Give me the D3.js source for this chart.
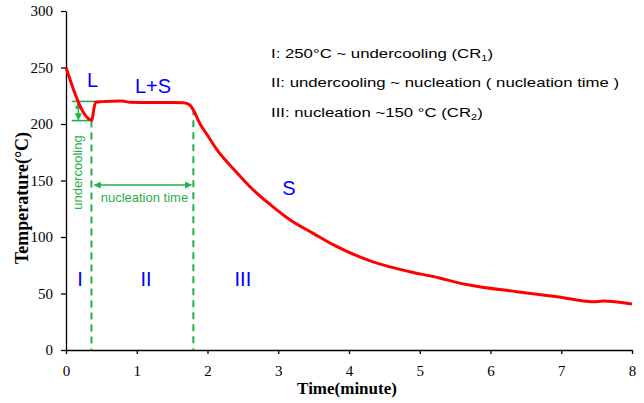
<!doctype html>
<html lang="en">
<head>
    <meta charset="UTF-8">
    <script src="https://cdnjs.cloudflare.com/ajax/libs/d3/7.8.5/d3.min.js"></script>
    <title>Cooling curve</title>
    <style>
        body { margin: 0; background: #fff; }
    </style>
</head>
<body>

<div id="viz_area"></div>

<script>
    // cooling curve
    const timeMin = [0, 0.367, 0.39, 0.42, 0.5, 0.79, 0.905, 1.2, 1.5, 1.66, 1.75, 1.80, 1.89, 2.0, 2.13, 2.4, 2.6, 2.9, 3.17, 3.5, 3.78, 4.34, 4.86, 5.19, 5.66, 6.37, 6.94, 7.45, 7.59, 8.0];
    const tempC = [250, 203.5, 212, 219.3, 219.8, 220.4, 219.2, 219, 219, 218.9, 216.8, 212.4, 200.6, 190, 177.5, 158, 144.5, 128, 115, 103, 93, 78, 69.3, 65, 58, 51.6, 47.2, 42.7, 43.3, 40.7];

    const xTicks = [0, 1, 2, 3, 4, 5, 6, 7, 8];
    const yTicks = [0, 50, 100, 150, 200, 250, 300];

    // annotation values
    const undercoolTemps = [220, 203];        // top / bottom of undercooling
    const nucleationTimes = [0.36, 1.8];      // start / end of nucleation time
    const nucleationArrowTemp = 146;

    const phaseLabels = ['L', 'L+S', 'S'];
    const phaseAt = [[0.375, 232.5], [1.23, 227], [3.15, 137]];
    const stageLabels = ['I', 'II', 'III'];
    const stageAt = [0.2, 1.13, 2.5];
    const stageTemp = 56.5;

    const legendLines = [
        ['I: 250°C ~ undercooling (CR', '1', ')'],
        ['II: undercooling ~ nucleation ( nucleation time )', '', ''],
        ['III: nucleation ~150 °C (CR', '2', ')']
    ];

    const margin = {top: 11, right: 12, bottom: 53, left: 66},
        width = 644 - margin.left - margin.right,
        height = 403 - margin.top - margin.bottom;

    const serif = '"Liberation Serif", "Times New Roman", serif';
    const sans = '"Liberation Sans", Arial, sans-serif';

    const svg = d3.select('#viz_area')
        .append('svg')
        .attr('width', 644)
        .attr('height', 403);

    const g = svg.append('g')
        .attr('transform', `translate(${margin.left},${margin.top})`);

    const x = d3.scaleLinear().domain([0, 8]).range([0, width]);
    const y = d3.scaleLinear().domain([0, 300]).range([height, 0]);

    const green = '#1fb14a';

    // arrow heads
    const defs = svg.append('defs');
    defs.append('marker')
        .attr('id', 'arr')
        .attr('viewBox', '0 0 10 10')
        .attr('refX', 9).attr('refY', 5)
        .attr('markerWidth', 7).attr('markerHeight', 7)
        .attr('markerUnits', 'userSpaceOnUse')
        .attr('orient', 'auto-start-reverse')
        .append('path')
        .attr('d', 'M0,0 L10,5 L0,10 Z')
        .attr('fill', green);

    // axes
    const xAxis = g.append('g')
        .attr('transform', `translate(0,${height})`)
        .call(d3.axisBottom(x).tickValues(xTicks).tickSize(4).tickSizeOuter(0));
    const yAxis = g.append('g')
        .call(d3.axisLeft(y).tickValues(yTicks).tickSize(5).tickSizeOuter(0));

    [xAxis, yAxis].forEach(a => {
        a.attr('font-family', null).attr('font-size', null);
        a.select('.domain').attr('stroke', '#000').attr('stroke-width', 1.3);
        a.selectAll('.tick line').attr('stroke', '#000').attr('stroke-width', 1.3);
        a.selectAll('.tick text')
            .style('font-family', serif)
            .style('font-size', '15px')
            .attr('fill', '#000');
    });
    xAxis.selectAll('.tick text').attr('y', 4).attr('dy', '1.45em');
    yAxis.selectAll('.tick text').attr('x', -13);

    svg.append('text')
        .attr('x', margin.left + x(4) - 2)
        .attr('y', 394)
        .attr('text-anchor', 'middle')
        .style('font-family', serif)
        .style('font-weight', 'bold')
        .style('font-size', '17px')
        .text('Time(minute)');

    svg.append('text')
        .attr('transform', 'translate(28,198) rotate(-90)')
        .attr('text-anchor', 'middle')
        .style('font-family', serif)
        .style('font-weight', 'bold')
        .style('font-size', '18px')
        .text('Temperature(°C)');

    // dashed markers of undercooling and nucleation
    g.selectAll('.vdash')
        .data([[nucleationTimes[0], undercoolTemps[1]], [nucleationTimes[1], 214]])
        .join('line')
        .attr('class', 'vdash')
        .attr('x1', d => x(d[0])).attr('x2', d => x(d[0]))
        .attr('y1', d => y(d[1])).attr('y2', y(0))
        .attr('stroke', green)
        .attr('stroke-width', 2)
        .attr('stroke-dasharray', '7,5');

    // undercooling brackets
    g.selectAll('.hbar')
        .data([[undercoolTemps[0], 0.48], [undercoolTemps[1], nucleationTimes[0] + 0.02]])
        .join('line')
        .attr('class', 'hbar')
        .attr('x1', x(0.08)).attr('x2', d => x(d[1]))
        .attr('y1', d => y(d[0])).attr('y2', d => y(d[0]))
        .attr('stroke', green)
        .attr('stroke-width', 1.6);

    g.append('line')
        .attr('x1', x(0.175)).attr('x2', x(0.175))
        .attr('y1', y(undercoolTemps[0]) + 1).attr('y2', y(undercoolTemps[1]) - 1)
        .attr('stroke', green)
        .attr('stroke-width', 1.6)
        .attr('marker-start', 'url(#arr)')
        .attr('marker-end', 'url(#arr)');

    g.append('text')
        .attr('transform', `translate(${x(0.225)},${y(157)}) rotate(-90)`)
        .attr('text-anchor', 'middle')
        .style('font-family', sans)
        .style('font-size', '13px')
        .attr('fill', green)
        .text('undercooling');

    g.append('line')
        .attr('x1', x(nucleationTimes[0]) + 3).attr('x2', x(nucleationTimes[1]) - 2)
        .attr('y1', y(nucleationArrowTemp)).attr('y2', y(nucleationArrowTemp))
        .attr('stroke', green)
        .attr('stroke-width', 1.6)
        .attr('marker-start', 'url(#arr)')
        .attr('marker-end', 'url(#arr)');

    g.append('text')
        .attr('x', x((nucleationTimes[0] + nucleationTimes[1]) / 2) + 2)
        .attr('y', y(nucleationArrowTemp) + 17)
        .attr('text-anchor', 'middle')
        .style('font-family', sans)
        .style('font-size', '13px')
        .attr('fill', green)
        .text('nucleation time');

    // the curve
    const points = timeMin.map((t, i) => [t, tempC[i]]);
    g.append('path')
        .datum(points)
        .attr('fill', 'none')
        .attr('stroke', '#ff0000')
        .attr('stroke-width', 3)
        .attr('stroke-linejoin', 'round')
        .attr('d', d3.line()
            .x(d => x(d[0]))
            .y(d => y(d[1]))
            .curve(d3.curveMonotoneX));

    // phase and stage labels
    g.selectAll('.phase')
        .data(phaseLabels)
        .join('text')
        .attr('class', 'phase')
        .attr('x', (d, i) => x(phaseAt[i][0]))
        .attr('y', (d, i) => y(phaseAt[i][1]))
        .attr('text-anchor', 'middle')
        .style('font-family', sans)
        .style('font-size', '20px')
        .attr('fill', '#0000ff')
        .text(d => d);

    g.selectAll('.stage')
        .data(stageLabels)
        .join('text')
        .attr('class', 'stage')
        .attr('x', (d, i) => x(stageAt[i]))
        .attr('y', y(stageTemp))
        .attr('text-anchor', 'middle')
        .style('font-family', sans)
        .style('font-size', '20px')
        .attr('fill', '#0000ff')
        .text(d => d);

    // legend text (the original is a bit stretched sideways)
    const leg = svg.selectAll('.leg')
        .data(legendLines)
        .join('text')
        .attr('class', 'leg')
        .attr('transform', (d, i) => `translate(271,${57.5 + i * 29.5}) scale(1.29,1)`)
        .style('font-family', sans)
        .style('font-size', '13px')
        .attr('fill', '#000');
    leg.append('tspan').text(d => d[0]);
    leg.append('tspan').style('font-size', '8.5px').attr('dy', 3).text(d => d[1]);
    leg.append('tspan').attr('dy', -3).text(d => d[2]);

</script>
</body>
</html>
